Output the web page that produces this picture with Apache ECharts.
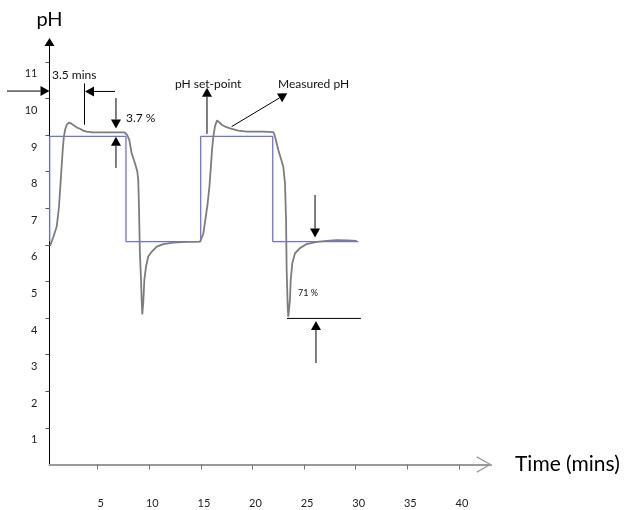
<!DOCTYPE html>
<html><head><meta charset="utf-8">
<script src="https://cdn.jsdelivr.net/npm/echarts@6/dist/echarts.min.js"></script>
<style>html,body{margin:0;padding:0;background:#fff}#c{width:627px;height:510px}</style>
</head><body><div id="c"></div>
<script>
// ---- data (time in minutes, pH) ----
const xTickLabels = [5, 10, 15, 20, 25, 30, 35, 40];
const yTickLabels = [1, 2, 3, 4, 5, 6, 7, 8, 9, 10, 11];

const setPoint = [
  [0.35, 6.09], [0.35, 8.96], [7.74, 8.96], [7.74, 6.09],
  [14.98, 6.09], [14.98, 8.96], [21.96, 8.96], [21.96, 6.09], [30.25, 6.09]
];

const measuredPH = [
  [0.38, 5.97], [0.71, 6.22], [1.03, 6.5], [1.25, 7.04], [1.42, 7.77], [1.61, 8.59],
  [1.72, 8.95], [1.85, 9.15], [2.0, 9.28], [2.2, 9.34], [2.4, 9.32], [2.64, 9.27],
  [2.95, 9.21], [3.28, 9.17], [3.6, 9.12], [3.93, 9.09], [4.5, 9.07], [6.0, 9.07],
  [7.6, 9.07], [7.85, 9.0], [8.06, 8.87], [8.29, 8.5], [8.61, 8.23], [8.84, 8.0],
  [8.93, 7.77], [9.0, 7.04], [9.09, 5.77], [9.2, 5.04], [9.26, 4.49], [9.32, 4.1],
  [9.42, 4.45], [9.52, 5.04], [9.68, 5.4], [9.9, 5.68], [10.23, 5.81], [10.72, 5.95],
  [11.36, 6.02], [12.33, 6.06], [13.62, 6.08], [14.91, 6.09], [15.23, 6.3],
  [15.42, 6.66], [15.64, 7.1], [15.83, 7.6], [15.97, 8.15], [16.08, 8.6], [16.2, 8.94],
  [16.37, 9.25], [16.57, 9.4], [16.75, 9.37], [17.02, 9.28], [17.42, 9.22],
  [17.82, 9.18], [18.62, 9.12], [19.44, 9.09], [21.0, 9.09], [22.02, 9.08],
  [22.18, 8.96], [22.5, 8.59], [22.98, 8.14], [23.15, 7.68], [23.25, 6.68],
  [23.31, 5.31], [23.41, 4.31], [23.47, 4.04], [23.63, 4.49], [23.7, 5.04],
  [23.86, 5.5], [24.12, 5.77], [24.6, 5.91], [25.25, 6.02], [26.22, 6.08],
  [27.2, 6.11], [28.16, 6.13], [29.2, 6.12], [30.1, 6.11]
];

// annotation segments: [x1, y1, x2, y2, arrowheadAtEnd]
const annotArrows = [
  [-3.79, 10.2, 0.33, 10.2, 1],
  [6.68, 10.19, 3.77, 10.19, 1],
  [3.72, 10.41, 3.72, 9.28, 0],
  [6.77, 10.01, 6.77, 9.18, 1],
  [6.77, 8.10, 6.77, 8.95, 1],
  [15.59, 9.03, 15.59, 10.29, 1],
  [17.98, 9.23, 23.37, 10.14, 1],
  [26.06, 7.36, 26.06, 6.20, 1],
  [23.34, 3.99, 30.51, 3.99, 0],
  [26.15, 2.77, 26.15, 3.92, 1]
];

// annotation labels: [text, x, y]
const annotTexts = [
  ['3.5 mins', 0.57, 10.64],
  ['3.7 %', 7.74, 9.45],
  ['pH set-point', 12.49, 10.40],
  ['Measured pH', 22.47, 10.40],
  ['71 %', 24.41, 4.69]
];

// ---- chart ----
const FONT = 'Lato, "Open Sans", sans-serif';
const chart = echarts.init(document.getElementById('c'), null, { renderer: 'canvas' });

function renderArrow(params, api) {
  const p1 = api.coord([api.value(0), api.value(1)]);
  const p2 = api.coord([api.value(2), api.value(3)]);
  const head = api.value(4);
  const children = [];
  const dx = p2[0] - p1[0], dy = p2[1] - p1[1];
  const L = Math.hypot(dx, dy), ux = dx / L, uy = dy / L;
  const hl = 9, hw = 5;
  const endX = head ? p2[0] - ux * hl : p2[0];
  const endY = head ? p2[1] - uy * hl : p2[1];
  children.push({ type: 'line', shape: { x1: p1[0], y1: p1[1], x2: endX, y2: endY },
    style: { stroke: '#000', lineWidth: 1 } });
  if (head) {
    children.push({ type: 'polygon', shape: { points: [
      [p2[0], p2[1]], [endX - uy * hw, endY + ux * hw], [endX + uy * hw, endY - ux * hw]
    ] }, style: { fill: '#000' } });
  }
  return { type: 'group', children };
}

const smallText = { '71 %': 9 };
function renderText(params, api) {
  const p = api.coord([api.value(0), api.value(1)]);
  const t = annotTexts[params.dataIndex][0];
  return { type: 'text', x: p[0], y: p[1], style: {
    text: t, fill: '#111', fontSize: smallText[t] || 12, fontFamily: FONT,
    align: 'left', verticalAlign: 'middle'
  } };
}

chart.setOption({
  animation: false,
  backgroundColor: '#fff',
  grid: { left: 49.5, right: 136, top: 42, bottom: 45.5, containLabel: false },
  xAxis: {
    type: 'value', min: 0.33, max: 43.11,
    name: 'Time (mins)', nameLocation: 'end', nameGap: 24,
    nameTextStyle: { fontSize: 21, color: '#000', fontFamily: FONT },
    axisLine: { show: true, onZero: false,
      lineStyle: { color: '#999', width: 2 },
      symbol: ['none', 'path://M0,15 L8.5,0 L17,15 L15.8,15.6 L8.5,2.4 L1.2,15.6 Z'],
      symbolSize: [17, 15], symbolOffset: [0, -7] },
    axisTick: { show: true, customValues: xTickLabels, length: 5, lineStyle: { color: '#777' } },
    axisLabel: { customValues: xTickLabels, margin: 33, fontSize: 11, color: '#222',
      fontFamily: FONT, padding: [0, 0, 0, 6] },
    splitLine: { show: false }
  },
  yAxis: {
    type: 'value', min: 0, max: 11.54,
    name: 'pH', nameLocation: 'end', nameGap: 12,
    nameTextStyle: { fontSize: 20, color: '#000', fontFamily: FONT, align: 'center' },
    axisLine: { show: true, onZero: false, lineStyle: { color: '#000', width: 1 },
      symbol: ['none', 'triangle'], symbolSize: [10, 8] },
    axisTick: { show: true, customValues: yTickLabels, length: 4, lineStyle: { color: '#555' } },
    axisLabel: { customValues: yTickLabels, margin: 12, fontSize: 11, color: '#222',
      fontFamily: FONT, verticalAlign: 'top', lineHeight: 24 },
    splitLine: { show: false }
  },
  series: [
    { name: 'pH set-point', type: 'line', data: setPoint, symbol: 'none',
      lineStyle: { color: '#6e6eff', width: 1.3 }, z: 2 },
    { name: 'Measured pH', type: 'line', data: measuredPH, symbol: 'none',
      lineStyle: { color: '#7d7d7d', width: 1.8 }, z: 3 },
    { type: 'custom', renderItem: renderArrow, data: annotArrows,
      encode: { x: [0, 2], y: [1, 3] }, clip: false, silent: true, z: 4 },
    { type: 'custom', renderItem: renderText, data: annotTexts.map(d => [d[1], d[2]]),
      encode: { x: 0, y: 1 }, clip: false, silent: true, z: 5 }
  ]
});
</script>
</body></html>
